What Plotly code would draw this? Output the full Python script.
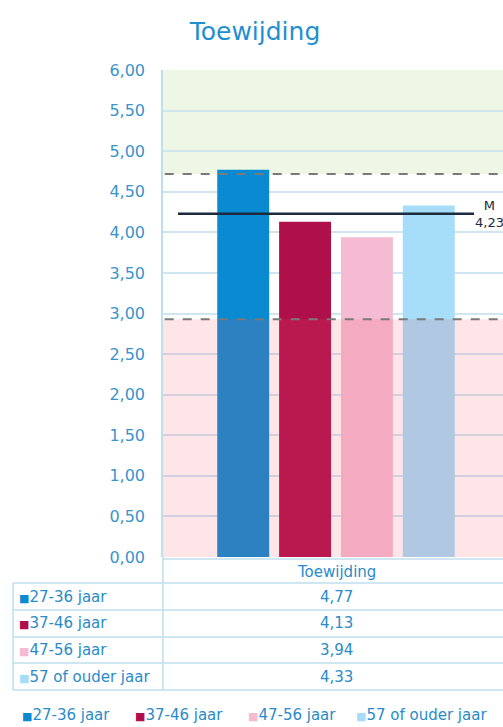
import plotly.graph_objects as go

# ---- data ----
title_text = "Toewijding"
category = "Toewijding"
groups = ["27-36 jaar", "37-46 jaar", "47-56 jaar", "57 of ouder jaar"]
values = [4.77, 4.13, 3.94, 4.33]
value_labels = ["4,77", "4,13", "3,94", "4,33"]
colors = ["#0A8AD0", "#B0104A", "#F5BBD2", "#A6DDF8"]
mean_value = 4.23
mean_label = "M<br>4,23"
upper_norm = 4.72
lower_norm = 2.93
y_max = 6.0
tick_vals = [0, 0.5, 1, 1.5, 2, 2.5, 3, 3.5, 4, 4.5, 5, 5.5, 6]

W, H = 503, 727
L, R, T, B = 163, 0, 70, 170
PW = W - L - R
PH = H - T - B

def px(x):
    return (x - L) / PW

def py(y):
    return (H - B - y) / PH

FONT = "DejaVu Sans"
TXT = "#2A8BC8"
GRID = "#CFE6F1"
BORDER = "#BFDFEF"

fig = go.Figure()
for g, v, c in zip(groups, values, colors):
    fig.add_trace(go.Bar(x=[category], y=[v], name=g, marker=dict(color=c, line=dict(width=0)),
                         showlegend=False, hoverinfo="skip"))

shapes = []
# green (above norm) band
shapes.append(dict(type="rect", xref="paper", yref="y", x0=0, x1=1, y0=upper_norm, y1=y_max,
                   fillcolor="#EEF7E5", line=dict(width=0), layer="below"))
# pink (below norm) band, tinted over bars
shapes.append(dict(type="rect", xref="paper", yref="y", x0=0, x1=1, y0=0, y1=lower_norm,
                   fillcolor="rgba(240,80,100,0.15)", line=dict(width=0), layer="above"))
# dashed norm lines
for yv in (upper_norm, lower_norm):
    shapes.append(dict(type="line", xref="paper", yref="y", x0=0.005, x1=1, y0=yv, y1=yv,
                       line=dict(color="#7A7A7A", width=2, dash="dash"), layer="above"))
# mean line
shapes.append(dict(type="line", xref="paper", yref="y", x0=px(178), x1=px(474), y0=mean_value, y1=mean_value,
                   line=dict(color="#1B2A3D", width=2.5), layer="above"))

# table lines
shapes.append(dict(type="line", xref="paper", yref="paper", x0=0, x1=1.05, y0=py(559), y1=py(559),
                   line=dict(color=BORDER, width=1.5)))
for yy in (583, 610, 637, 663, 690):
    shapes.append(dict(type="line", xref="paper", yref="paper", x0=px(13), x1=1.05, y0=py(yy), y1=py(yy),
                       line=dict(color=BORDER, width=1.5)))
shapes.append(dict(type="line", xref="paper", yref="paper", x0=px(13), x1=px(13), y0=py(583), y1=py(690),
                   line=dict(color=BORDER, width=1.5)))
shapes.append(dict(type="line", xref="paper", yref="paper", x0=0, x1=0, y0=py(557), y1=py(690),
                   line=dict(color=BORDER, width=1.5)))

annotations = []
# mean label
annotations.append(dict(xref="paper", yref="y", x=px(489), y=mean_value, text=mean_label,
                        showarrow=False, xanchor="center", yanchor="middle",
                        font=dict(family=FONT, size=13, color="#1B2A3D"), align="center"))
# table header
annotations.append(dict(xref="x", yref="paper", x=category, y=py(572), text=category, showarrow=False,
                        yanchor="middle", font=dict(family=FONT, size=15, color=TXT)))
row_y = [597, 623, 650, 677]
for g, lab, c, ry in zip(groups, value_labels, colors, row_y):
    annotations.append(dict(xref="x", yref="paper", x=category, y=py(ry), text=lab, showarrow=False,
                            yanchor="middle", font=dict(family=FONT, size=15, color=TXT)))
    annotations.append(dict(xref="paper", yref="paper", x=px(17), y=py(ry), xanchor="left", yanchor="middle",
                            text=f'<span style="color:{c};font-size:11px">■</span>{g}', showarrow=False,
                            font=dict(family=FONT, size=15, color=TXT)))
# legend
legend_x = [20, 133, 246, 354]
for g, c, lx in zip(groups, colors, legend_x):
    annotations.append(dict(xref="paper", yref="paper", x=px(lx), y=py(715), xanchor="left", yanchor="middle",
                            text=f'<span style="color:{c};font-size:11px">■</span>{g}', showarrow=False,
                            font=dict(family=FONT, size=15, color=TXT)))

fig.update_layout(
    width=W, height=H,
    margin=dict(l=L, r=R, t=T, b=B),
    paper_bgcolor="white", plot_bgcolor="white",
    separators=",.",
    barmode="group", bargap=0.285, bargroupgap=0.16,
    title=dict(text=title_text, x=255 / W, xanchor="center", y=1 - 31 / H, yanchor="middle",
               font=dict(family=FONT, size=25, color="#1E90D0")),
    xaxis=dict(range=[-0.5, PW / 346 - 0.5], showticklabels=False, showgrid=False, zeroline=False,
               showline=False, fixedrange=True),
    yaxis=dict(range=[0, y_max], tickvals=tick_vals, tickformat=".2f", showgrid=True, gridcolor=GRID,
               gridwidth=1.5, zeroline=False, showline=True, linecolor=BORDER, linewidth=1.5,
               ticks="", ticklabelstandoff=13,
               tickfont=dict(family=FONT, size=16, color="#3A93CC")),
    shapes=shapes, annotations=annotations,
    showlegend=False,
)

fig.write_html("out.html", config={"displayModeBar": False},
               post_script="document.body.style.margin='0';document.body.style.overflow='hidden';"
                           "document.documentElement.style.overflow='hidden';")
